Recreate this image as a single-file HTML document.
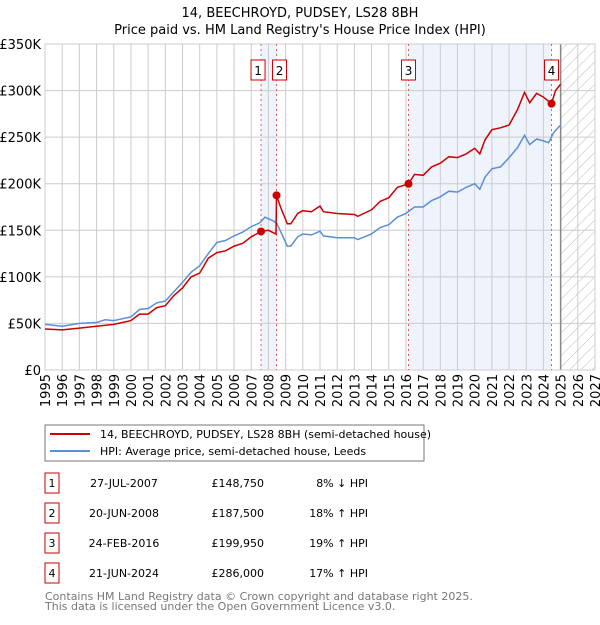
<!DOCTYPE html>
<html><head><meta charset="utf-8"><style>
body{margin:0;background:#fff;font-family:"Liberation Sans","DejaVu Sans",sans-serif;}
svg text{font-family:"DejaVu Sans","Liberation Sans",sans-serif;}
</style></head><body>
<svg id="c" width="600" height="620" xmlns="http://www.w3.org/2000/svg">
<defs><pattern id="h" width="8" height="8" patternUnits="userSpaceOnUse" patternTransform="rotate(45)"><line x1="0" y1="0" x2="0" y2="8" stroke="#bbb" stroke-width="1"/></pattern></defs>
<text x="300" y="17" text-anchor="middle" font-size="13">14, BEECHROYD, PUDSEY, LS28 8BH</text>
<text x="300" y="34" text-anchor="middle" font-size="13">Price paid vs. HM Land Registry's House Price Index (HPI)</text>
<g id="plot"></g>
<rect x="45" y="425" width="379" height="36" fill="#fff" stroke="#777"/>
<line x1="50" y1="434" x2="90" y2="434" stroke="#cc0000" stroke-width="2"/>
<text x="100" y="438" font-size="11">14, BEECHROYD, PUDSEY, LS28 8BH (semi-detached house)</text>
<line x1="50" y1="451" x2="90" y2="451" stroke="#5b8fd4" stroke-width="2"/>
<text x="100" y="455" font-size="11">HPI: Average price, semi-detached house, Leeds</text>
<g id="tbl"></g>
<text x="45" y="600" font-size="11" fill="#777">Contains HM Land Registry data © Crown copyright and database right 2025.</text>
<text x="45" y="610" font-size="11" fill="#777">This data is licensed under the Open Government Licence v3.0.</text>
</svg>
<script>
const hpiYears=[1995,1996,1997,1998,1998.5,1999,2000,2000.5,2001,2001.5,2002,2002.5,2003,2003.5,2004,2004.5,2005,2005.5,2006,2006.5,2007,2007.5,2007.8,2008.3,2008.5,2008.8,2009.1,2009.3,2009.7,2010,2010.5,2011,2011.2,2012,2013,2013.2,2014,2014.5,2015,2015.5,2016,2016.5,2017,2017.5,2018,2018.5,2019,2019.5,2020,2020.3,2020.6,2021,2021.5,2022,2022.5,2022.9,2023.2,2023.6,2024,2024.3,2024.6,2025];
const hpiValues=[49,47,50,51,54,53,57,65,66,72,74,84,94,105,112,125,137,139,144,148,154,158,164,160,157,145,133,133,143,146,145,149,144,142,142,140,146,153,156,164,168,175,175,182,186,192,191,196,200,194,207,216,218,228,239,252,242,248,246,244,255,263];
const priceYears=[1995,1996,1997,1998,1999,2000,2000.5,2001,2001.5,2002,2002.5,2003,2003.5,2004,2004.5,2005,2005.5,2006,2006.5,2007,2007.57,2008,2008.44,2008.47,2008.7,2009.1,2009.3,2009.7,2010,2010.5,2011,2011.2,2012,2013,2013.2,2014,2014.5,2015,2015.5,2016.15,2016.5,2017,2017.5,2018,2018.5,2019,2019.5,2020,2020.3,2020.6,2021,2021.5,2022,2022.5,2022.9,2023.2,2023.6,2024,2024.47,2024.7,2025];
const priceValues=[44,43,45,47,49,53,60,60,67,69,80,88,100,104,120,126,128,133,136,143,148.75,150,146,187.5,175,157,157,168,171,170,176,170,168,167,165,172,181,185,196,199.95,210,209,218,222,229,228,232,238,232,247,258,260,263,280,298,287,297,293,286,300,307];
const saleLabels=["1","2","3","4"];
const saleYears=[2007.57,2008.47,2016.15,2024.47];
const saleValues=[148.75,187.5,199.95,286];
const saleDates=["27-JUL-2007","20-JUN-2008","24-FEB-2016","21-JUN-2024"];
const salePrices=["£148,750","£187,500","£199,950","£286,000"];
const saleHpi=["8% ↓ HPI","18% ↑ HPI","19% ↑ HPI","17% ↑ HPI"];
const yTicks=[0,50,100,150,200,250,300,350];
const yTickLabels=["£0","£50K","£100K","£150K","£200K","£250K","£300K","£350K"];
const xTicks=[1995,1996,1997,1998,1999,2000,2001,2002,2003,2004,2005,2006,2007,2008,2009,2010,2011,2012,2013,2014,2015,2016,2017,2018,2019,2020,2021,2022,2023,2024,2025,2026,2027];
const X0=45,X1=595,Y0=370,Y1=44;
const xs=y=>X0+(y-1995)/(2027-1995)*(X1-X0);
const ys=v=>Y0-v/350*(Y0-Y1);
const NS="http://www.w3.org/2000/svg";
const P=document.getElementById('plot');
function mk(tag,at,parent){const e=document.createElementNS(NS,tag);for(const k in at)e.setAttribute(k,at[k]);(parent||P).appendChild(e);return e;}
let e;
e=mk('rect',{x:xs(saleYears[0]),y:Y1,width:xs(saleYears[1])-xs(saleYears[0]),height:Y0-Y1,fill:'#eef3fc'});


e=mk('rect',{x:xs(saleYears[2]),y:Y1,width:xs(saleYears[3])-xs(saleYears[2]),height:Y0-Y1,fill:'#eef3fc'});


e=mk('rect',{x:xs(2025),y:Y1,width:X1-xs(2025),height:Y0-Y1,fill:'url(#h)'});


xTicks.forEach(t=>{mk('line',{x1:xs(t),x2:xs(t),y1:Y1,y2:Y0,stroke:'#ccc'});
 const l=mk('text',{x:0,y:0,'font-size':'13','text-anchor':'end',transform:`translate(${xs(t)+5},${Y0+4}) rotate(-90)`});l.textContent=t;
 
 });
yTicks.forEach((t,i)=>{mk('line',{x1:X0,x2:X1,y1:ys(t),y2:ys(t),stroke:'#ccc'});
 const l=mk('text',{x:X0-4,y:ys(t)+5,'font-size':'13','text-anchor':'end'});l.textContent=yTickLabels[i];
 
 });
mk('line',{x1:xs(2025),x2:xs(2025),y1:Y1,y2:Y0,stroke:'#888','stroke-width':1.5});
mk('rect',{x:X0,y:Y1,width:X1-X0,height:Y0-Y1,fill:'none',stroke:'#ccc'});
saleYears.forEach((y,i)=>{
 e=mk('line',{x1:xs(y),x2:xs(y),y1:Y1,y2:Y0,stroke:'#e06060','stroke-dasharray':'2,3'});
 
 
 const off=i==0?-3:(i==1?3:0);
 e=mk('rect',{x:xs(y)+off-7,y:60,width:14,height:20,fill:'#fff',stroke:'#cc0000'});
 
 
 const t=mk('text',{x:xs(y)+off,y:75,'font-size':'12','text-anchor':'middle'});t.textContent=saleLabels[i];
});
const path=(xa,va)=>xa.map((y,i)=>(i?'L':'M')+xs(y).toFixed(1)+','+ys(va[i]).toFixed(1)).join('');
e=mk('path',{d:path(hpiYears,hpiValues),fill:'none',stroke:'#5b8fd4','stroke-width':1.5});


e=mk('path',{d:path(priceYears,priceValues),fill:'none',stroke:'#cc0000','stroke-width':1.5});


saleYears.forEach((y,i)=>{e=mk('circle',{cx:xs(y),cy:ys(saleValues[i]),r:4,fill:'#cc0000'});
 
 });
const T=document.getElementById('tbl');
saleLabels.forEach((s,i)=>{const cy=483+i*30;
 e=mk('rect',{x:45,y:cy-10,width:14,height:20,fill:'#fff',stroke:'#cc0000'},T);
 
 
 let t=mk('text',{x:52,y:cy+4,'font-size':'11','text-anchor':'middle'},T);t.textContent=s;
 t=mk('text',{x:124,y:cy+4,'font-size':'11','text-anchor':'middle'},T);t.textContent=saleDates[i];
 
 
 t=mk('text',{x:264,y:cy+4,'font-size':'11','text-anchor':'end'},T);t.textContent=salePrices[i];
 
 
 t=mk('text',{x:368,y:cy+4,'font-size':'11','text-anchor':'end'},T);t.textContent=saleHpi[i];
 
 
});
</script>
</body></html>
